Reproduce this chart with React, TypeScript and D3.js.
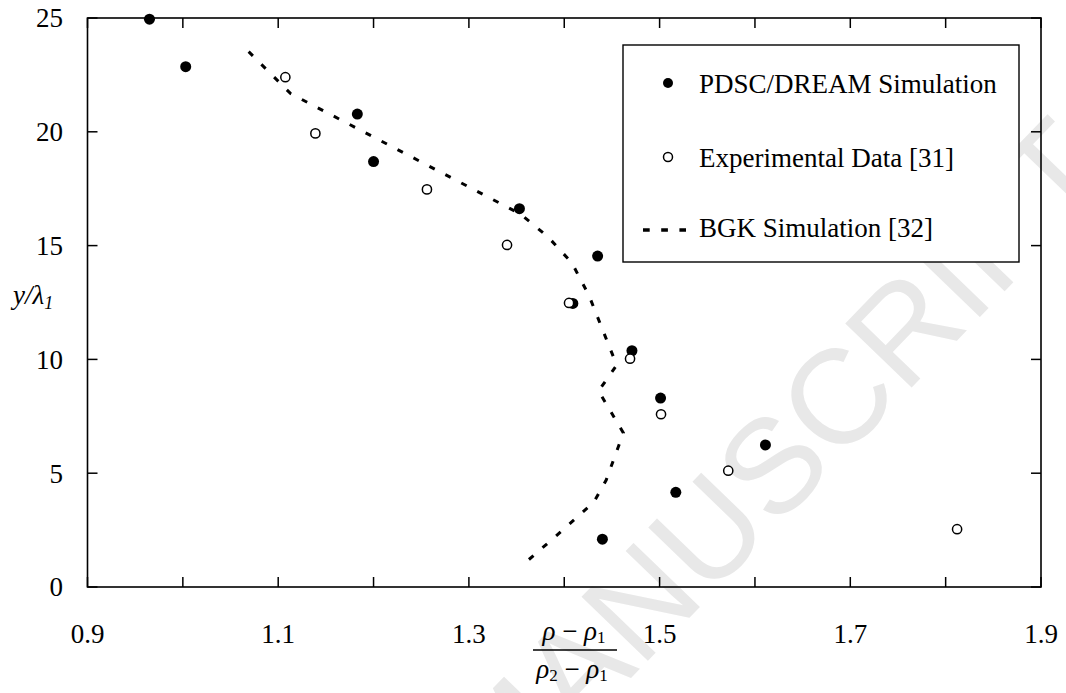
import React from "react";
import * as d3 from "d3";

// PDSC/DREAM Simulation (filled circles)
const pdscX = [0.965, 1.003, 1.183, 1.2, 1.353, 1.435, 1.409, 1.471, 1.501, 1.611, 1.517, 1.44];
const pdscY = [24.95, 22.86, 20.78, 18.69, 16.62, 14.54, 12.46, 10.38, 8.3, 6.24, 4.16, 2.1];

// Experimental Data [31] (open circles)
const expX = [1.1075, 1.139, 1.256, 1.34, 1.405, 1.469, 1.5015, 1.572, 1.812];
const expY = [22.4, 19.93, 17.47, 15.03, 12.48, 10.03, 7.59, 5.11, 2.54];

// BGK Simulation [32] (dashed line)
const bgkX = [1.069, 1.113, 1.354, 1.383, 1.408, 1.426, 1.455, 1.436, 1.462, 1.444, 1.431, 1.393, 1.36];
const bgkY = [23.52, 21.68, 16.39, 15.38, 14.24, 12.8, 9.75, 8.61, 6.77, 4.7, 3.73, 2.3, 1.1];

const xTickValues = [0.9, 1.0, 1.1, 1.2, 1.3, 1.4, 1.5, 1.6, 1.7, 1.8, 1.9];
const xLabelValues = [0.9, 1.1, 1.3, 1.5, 1.7, 1.9];
const yTickValues = [0, 5, 10, 15, 20, 25];

const legendLabels = ["PDSC/DREAM Simulation", "Experimental Data [31]", "BGK Simulation [32]"];

const W = 1066;
const H = 693;
const L = 87.5, R = 1041, T = 18, B = 587;
const SERIF = '"Liberation Serif", "Times New Roman", Tinos, "DejaVu Serif", serif';
const SANS = '"Liberation Sans", Arial, sans-serif';

export default function App() {
  const x = d3.scaleLinear().domain([0.9, 1.9]).range([L, R]);
  const y = d3.scaleLinear().domain([0, 25]).range([B, T]);
  const fmt = d3.format(".1f");

  const bgk = bgkX.map((v, i) => [v, bgkY[i]] as [number, number]);
  const line = d3.line<[number, number]>().x(d => x(d[0])).y(d => y(d[1]));

  const tickLen = 10;
  const ts = { fontFamily: SERIF } as React.CSSProperties;

  return (
    <svg width={W} height={H} style={{ position: "absolute", left: 0, top: 0, background: "#fff" }}>
      {/* watermark */}
      <text x={1116} y={176} textAnchor="end" style={{ fontFamily: SANS }}
        fontSize={134} fill="#e8e8e8" transform="rotate(-46 1116 176)">ACCEPTED MANUSCRIPT</text>

      {/* frame */}
      <rect x={L} y={T} width={R - L} height={B - T} fill="none" stroke="#000" strokeWidth={1.6} />

      {/* x ticks */}
      {xTickValues.map(v => (
        <g key={"xt" + v}>
          <line x1={x(v)} x2={x(v)} y1={B} y2={B - tickLen} stroke="#000" strokeWidth={1.5} />
          <line x1={x(v)} x2={x(v)} y1={T} y2={T + tickLen} stroke="#000" strokeWidth={1.5} />
        </g>
      ))}
      {xLabelValues.map(v => (
        <text key={"xl" + v} x={x(v)} y={643} textAnchor="middle" fontSize={27} style={ts}>{fmt(v)}</text>
      ))}

      {/* y ticks */}
      {yTickValues.map(v => (
        <g key={"yt" + v}>
          <line x1={L} x2={L + tickLen} y1={y(v)} y2={y(v)} stroke="#000" strokeWidth={1.5} />
          <line x1={R} x2={R - tickLen} y1={y(v)} y2={y(v)} stroke="#000" strokeWidth={1.5} />
          <text x={63} y={y(v)} dy="0.35em" textAnchor="end" fontSize={27} style={ts}>{v}</text>
        </g>
      ))}

      {/* y axis title */}
      <text x={13} y={304} fontSize={27} fontStyle="italic" style={ts}>
        y/λ<tspan fontSize={18} dy={5}>1</tspan>
      </text>

      {/* x axis title: fraction */}
      <text x={574} y={640} textAnchor="middle" fontSize={27} style={ts}>
        <tspan fontStyle="italic">ρ</tspan> − <tspan fontStyle="italic">ρ</tspan><tspan fontSize={17} dy={3}>1</tspan>
      </text>
      <line x1={533} x2={617} y1={650} y2={650} stroke="#000" strokeWidth={1.3} />
      <text x={572} y={678} textAnchor="middle" fontSize={27} style={ts}>
        <tspan fontStyle="italic">ρ</tspan><tspan fontSize={17} dy={3}>2</tspan><tspan dy={-3}> − </tspan><tspan fontStyle="italic">ρ</tspan><tspan fontSize={17} dy={3}>1</tspan>
      </text>

      {/* BGK dashed line */}
      <path d={line(bgk) || ""} fill="none" stroke="#000" strokeWidth={3} strokeDasharray="6 12" />

      {/* PDSC filled */}
      {pdscX.map((v, i) => (
        <circle key={"p" + i} cx={x(v)} cy={y(pdscY[i])} r={5.5} fill="#000" />
      ))}
      {/* Experimental open */}
      {expX.map((v, i) => (
        <circle key={"e" + i} cx={x(v)} cy={y(expY[i])} r={4.6} fill="#fff" stroke="#000" strokeWidth={1.5} />
      ))}

      {/* legend */}
      <rect x={623} y={45} width={396} height={217} fill="#fff" stroke="#000" strokeWidth={1.4} />
      <circle cx={668} cy={83} r={5} fill="#000" />
      <circle cx={668} cy={157} r={4.5} fill="#fff" stroke="#000" strokeWidth={1.5} />
      <line x1={643} x2={686} y1={230} y2={230} stroke="#000" strokeWidth={3.5} strokeDasharray="6.7 11.5" />
      {legendLabels.map((s, i) => (
        <text key={s} x={699} y={[93, 167, 237][i]} fontSize={27} style={ts}>{s}</text>
      ))}
    </svg>
  );
}
